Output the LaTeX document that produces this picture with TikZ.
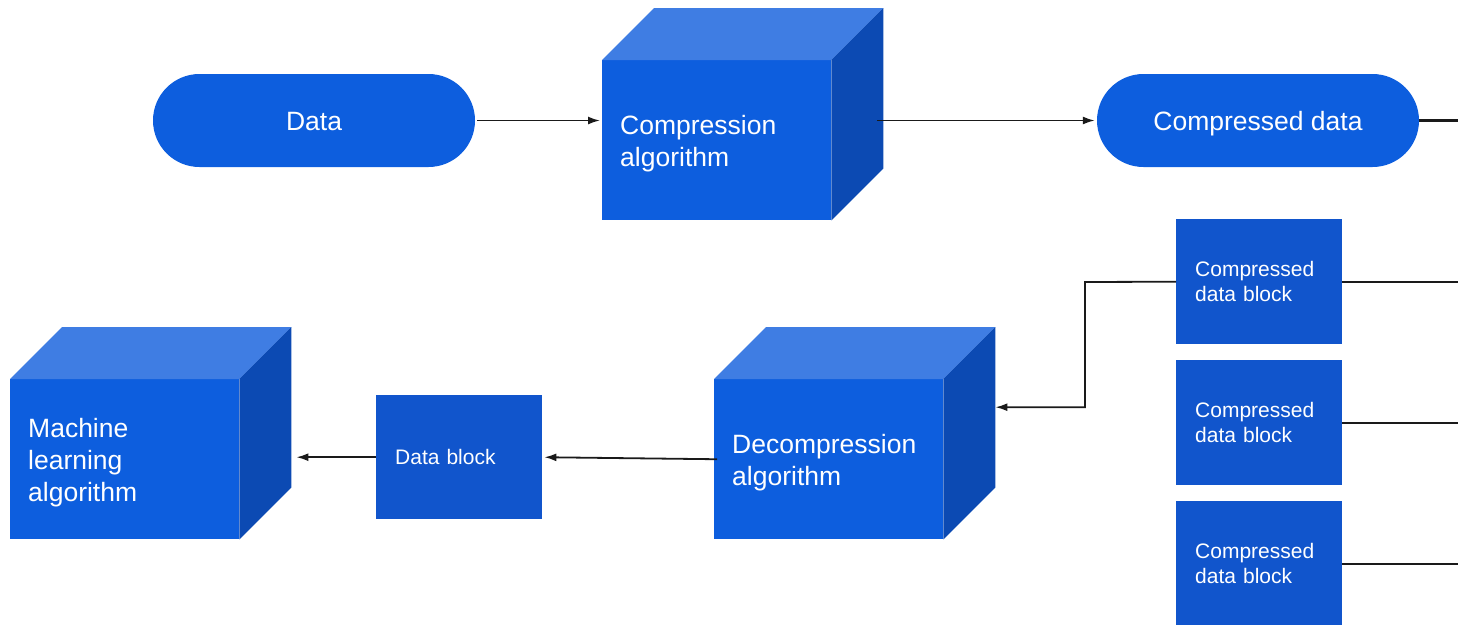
\documentclass[tikz,border=0pt]{standalone}
\usepackage{fontspec}
\setmainfont{Liberation Sans}
\usetikzlibrary{arrows.meta,calc}

\definecolor{facefront}{HTML}{0D5EDE}
\definecolor{facetop}{HTML}{3F7DE3}
\definecolor{faceside}{HTML}{0C4AB3}
\definecolor{blockblue}{HTML}{1155CC}
\definecolor{wire}{HTML}{1A1A1A}

% top and right faces of a cube whose front face is the node #1
\newcommand\cubefaces[1]{%
  \fill[facetop] (#1.north west) -- ++(52,-52) -- ([shift={(52,-52)}]#1.north east) -- (#1.north east) -- cycle;
  \fill[faceside] (#1.north east) -- ++(52,-52) -- ([shift={(52,-52)}]#1.south east) -- (#1.south east) -- cycle;
}

\begin{document}
\begin{tikzpicture}[x=1pt,y=-1pt,
  bigtext/.style={font=\fontsize{26.5}{32}\selectfont, text=white},
  smalltext/.style={font=\fontsize{21}{25.5}\selectfont, text=white},
  pill/.style={bigtext, fill=facefront, rounded corners=46.5pt,
    minimum width=322pt, minimum height=93pt, inner sep=0pt,
    text height=19pt, text depth=0pt},
  cubefront/.style={bigtext, fill=facefront, anchor=north west,
    text width=193pt, align=left, inner xsep=18pt, inner ysep=0pt,
    minimum height=160pt, execute at begin node={\rule{0pt}{25.5pt}}},
  blockbox/.style={smalltext, fill=blockblue, anchor=north west,
    text width=128pt, align=left, inner xsep=19pt, inner ysep=0pt,
    minimum height=125pt},
  arrow/.style={draw=wire, line width=1.8pt, -{Latex[length=12pt,width=8pt]}},
  wireline/.style={draw=wire, line width=2pt},
]
\useasboundingbox (0,0) rectangle (1458,624);

% top row
\node[pill] (data) at (314,120.5) {Data};
\node[cubefront] (comp) at (602,60) {Compression\\algorithm};
\cubefaces{comp}
\node[pill] (cd) at (1258,120.5) {Compressed data};

% compressed blocks
\node[blockbox] (b1) at (1176,219) {Compressed\\data block};
\node[blockbox] (b2) at (1176,360) {Compressed\\data block};
\node[blockbox] (b3) at (1176,501) {Compressed\\data block};

% bottom row
\node[cubefront] (dec) at (714,379) {Decompression\\algorithm};
\cubefaces{dec}
\node[blockbox, minimum height=124pt] (db) at (376,395) {Data block};
\node[cubefront] (ml) at (10,379) {Machine\\learning\\algorithm};
\cubefaces{ml}

% reference points on the cubes' right faces and the right margin
\coordinate (compback) at ($(comp.east)+(52,-52)$);
\coordinate (decback) at ($(dec.east)+(52,-52)$);
\coordinate (mlback) at ($(ml.east)+(52,-52)$);
\coordinate (edge) at (1460,0);
\coordinate (bend) at (1085,282);

% connectors
\draw[arrow, shorten <=2pt, shorten >=2pt] (data.east) -- (data.east -| comp.west);
\draw[arrow, shorten >=2pt] ([xshift=-6pt]cd.west -| compback) -- (cd.west);
\draw[draw=wire, line width=2.5pt] (cd.east) -- (cd.east -| edge);

\draw[wireline] (b1.east) -- (b1.east -| edge);
\draw[wireline] (b2.east) -- (b2.east -| edge);
\draw[wireline] (b3.east) -- (b3.east -| edge);

\draw[arrow] (b1.west) -- (bend) |- (decback);
\draw[arrow, shorten <=-3pt, shorten >=2pt] (dec.west) -- (db.east);
\draw[arrow, shorten >=5pt] (db.west) -- (db.west -| mlback);
\end{tikzpicture}
\end{document}
